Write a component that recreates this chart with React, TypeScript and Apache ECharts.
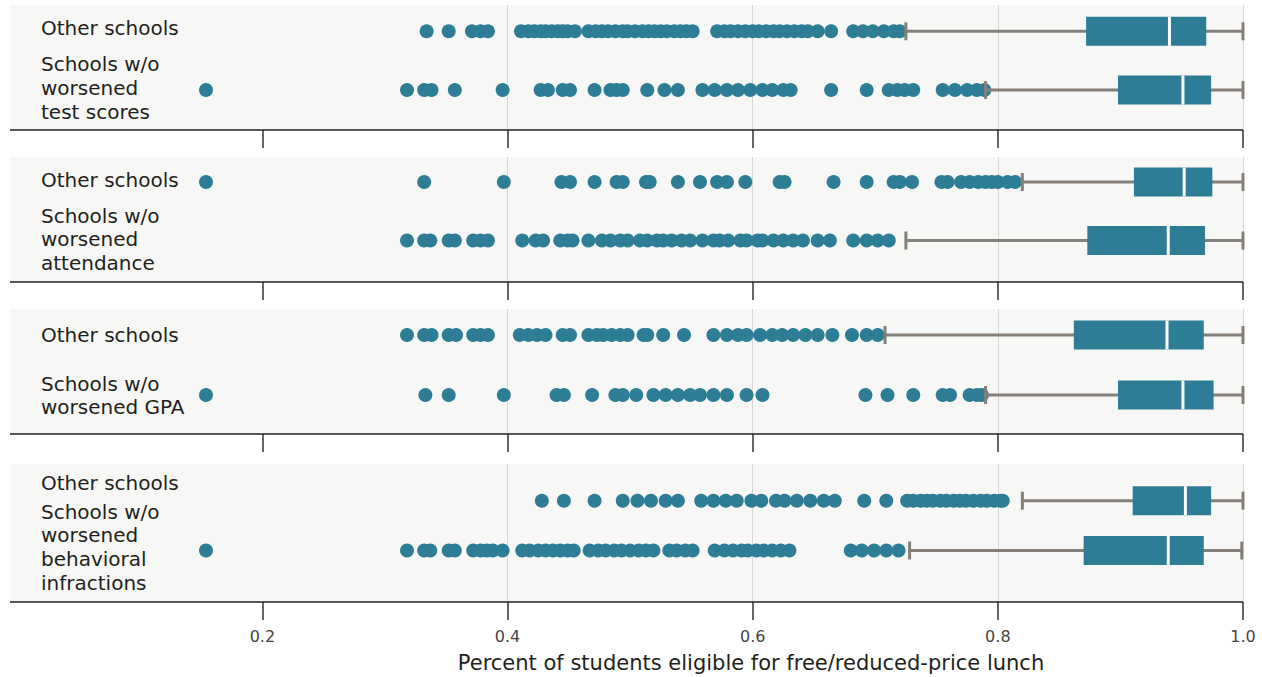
import React, { useEffect, useRef } from "react";
import * as echarts from "echarts";

// ---------- data ----------
const xTicks = [0.2, 0.4, 0.6, 0.8, 1.0];
const axisTitle = "Percent of students eligible for free/reduced-price lunch";

const rowLabels = [
  ["Other schools", "Schools w/o\nworsened\ntest scores"],
  ["Other schools", "Schools w/o\nworsened\nattendance"],
  ["Other schools", "Schools w/o\nworsened GPA"],
  ["Other schools", "Schools w/o\nworsened\nbehavioral\ninfractions"],
];

// box stats: [lower whisker, Q1, median, Q3, upper whisker]
const testOtherBox = [0.725, 0.872, 0.940, 0.970, 1.0];
const testWorseBox = [0.790, 0.898, 0.951, 0.974, 1.0];
const attOtherBox = [0.820, 0.911, 0.952, 0.975, 1.0];
const attWorseBox = [0.725, 0.873, 0.939, 0.969, 1.0];
const gpaOtherBox = [0.708, 0.862, 0.938, 0.968, 1.0];
const gpaWorseBox = [0.790, 0.898, 0.951, 0.976, 1.0];
const behOtherBox = [0.820, 0.910, 0.953, 0.974, 1.0];
const behWorseBox = [0.728, 0.870, 0.939, 0.968, 0.999];

// outliers
const testOtherPts = [0.334, 0.352, 0.371, 0.378, 0.384, 0.411, 0.417, 0.422, 0.427, 0.431, 0.436, 0.441, 0.445, 0.449, 0.455,
  0.466, 0.472, 0.477, 0.482, 0.488, 0.494, 0.498, 0.504, 0.510, 0.515, 0.520, 0.525, 0.530, 0.536, 0.541, 0.546, 0.551,
  0.571, 0.577, 0.582, 0.588, 0.594, 0.600, 0.605, 0.611, 0.617, 0.622, 0.628, 0.634, 0.640, 0.645, 0.653, 0.664,
  0.682, 0.690, 0.698, 0.707, 0.715, 0.720];
const testWorsePts = [0.154, 0.318, 0.332, 0.338, 0.357, 0.396, 0.427, 0.433, 0.445, 0.451, 0.471, 0.484, 0.489, 0.494, 0.514,
  0.528, 0.539, 0.559, 0.569, 0.579, 0.588, 0.598, 0.608, 0.616, 0.625, 0.631, 0.664, 0.693, 0.711, 0.718, 0.724, 0.731,
  0.755, 0.765, 0.775, 0.783, 0.789];
const attOtherPts = [0.154, 0.332, 0.397, 0.444, 0.451, 0.471, 0.489, 0.494, 0.513, 0.516, 0.539, 0.557, 0.571, 0.579, 0.594,
  0.622, 0.626, 0.666, 0.693, 0.715, 0.720, 0.730, 0.754, 0.759, 0.770, 0.777, 0.784, 0.790, 0.795, 0.800, 0.808, 0.814];
const attWorsePts = [0.318, 0.332, 0.337, 0.352, 0.357, 0.372, 0.378, 0.384, 0.412, 0.423, 0.429, 0.443, 0.449, 0.453, 0.466,
  0.477, 0.484, 0.492, 0.498, 0.508, 0.514, 0.522, 0.527, 0.534, 0.542, 0.549, 0.559, 0.568, 0.573, 0.580, 0.590, 0.595,
  0.604, 0.608, 0.617, 0.625, 0.633, 0.641, 0.653, 0.663, 0.682, 0.693, 0.702, 0.711];
const gpaOtherPts = [0.318, 0.332, 0.338, 0.352, 0.358, 0.372, 0.378, 0.384, 0.410, 0.417, 0.424, 0.431, 0.445, 0.451, 0.466,
  0.473, 0.478, 0.485, 0.492, 0.498, 0.511, 0.514, 0.527, 0.544, 0.568, 0.579, 0.588, 0.595, 0.606, 0.616, 0.624, 0.633,
  0.643, 0.653, 0.665, 0.681, 0.693, 0.702];
const gpaWorsePts = [0.154, 0.333, 0.352, 0.397, 0.440, 0.446, 0.469, 0.488, 0.494, 0.505, 0.519, 0.529, 0.539, 0.549, 0.557,
  0.568, 0.579, 0.595, 0.608, 0.692, 0.710, 0.731, 0.755, 0.761, 0.777, 0.783, 0.787];
const behOtherPts = [0.428, 0.446, 0.471, 0.494, 0.506, 0.517, 0.529, 0.539, 0.558, 0.568, 0.578, 0.587, 0.599, 0.607, 0.619,
  0.626, 0.636, 0.647, 0.658, 0.667, 0.691, 0.709, 0.726, 0.731, 0.737, 0.742, 0.747, 0.753, 0.758, 0.764, 0.769, 0.774,
  0.780, 0.786, 0.791, 0.797, 0.802, 0.804];
const behWorsePts = [0.154, 0.318, 0.332, 0.337, 0.352, 0.357, 0.372, 0.378, 0.383, 0.388, 0.396, 0.412, 0.418, 0.425, 0.431,
  0.437, 0.443, 0.449, 0.454, 0.467, 0.474, 0.480, 0.487, 0.493, 0.500, 0.507, 0.513, 0.519, 0.532, 0.538, 0.545, 0.551,
  0.569, 0.577, 0.584, 0.591, 0.596, 0.603, 0.609, 0.616, 0.623, 0.630, 0.680, 0.689, 0.699, 0.709, 0.719];

const panelBoxes = [
  [testOtherBox, testWorseBox],
  [attOtherBox, attWorseBox],
  [gpaOtherBox, gpaWorseBox],
  [behOtherBox, behWorseBox],
];
const panelPts = [
  [testOtherPts, testWorsePts],
  [attOtherPts, attWorsePts],
  [gpaOtherPts, gpaWorsePts],
  [behOtherPts, behWorsePts],
];

// ---------- layout / style ----------
const TEAL = "#2e7d96";
const WHISK = "#857f79";
const BG = "#f7f7f5";
const FONT = "DejaVu Sans";
const W = 1262;
const H = 677;
const GRID_LEFT = 17.2;
const GRID_RIGHT_PX = 1243;
const PANEL_LEFT = 10;
// panel [top, bottom], row pixel centres [row0, row1]
const panels = [
  { top: 5, bottom: 130, rows: [31.3, 90] },
  { top: 157, bottom: 282, rows: [182, 240.5] },
  { top: 309, bottom: 434, rows: [335, 395] },
  { top: 464, bottom: 602, rows: [500.7, 550.5] },
];
const labelY = [
  [28.2, 88],
  [180.2, 239.2],
  [335.2, 395.5],
  [482.5, 547.2],
];

function buildOption() {
  const grid: any[] = [];
  const xAxis: any[] = [];
  const yAxis: any[] = [];
  const series: any[] = [];
  const graphic: any[] = [];

  panels.forEach((p, i) => {
    const h = p.bottom - p.top;
    const sp = p.rows[1] - p.rows[0];
    const ymin = -(p.rows[0] - p.top) / sp;
    const ymax = 1 + (p.bottom - p.rows[1]) / sp;
    grid.push({ left: GRID_LEFT, width: GRID_RIGHT_PX - GRID_LEFT, top: p.top, height: h, containLabel: false });
    xAxis.push({
      gridIndex: i,
      type: "value",
      position: "bottom",
      min: 0,
      max: 1,
      interval: 0.2,
      axisLine: { show: false, onZero: false },
      axisTick: { show: true, customValues: xTicks, length: 18, inside: false, lineStyle: { color: "#333", width: 1.5 } },
      axisLabel: {
        show: i === panels.length - 1,
        customValues: xTicks,
        margin: 26,
        formatter: (v: number) => v.toFixed(1),
        fontSize: 16,
        fontFamily: FONT,
        color: "#444",
      },
      splitLine: { show: true, showMinLine: false, lineStyle: { color: "#d6d6d6", width: 1 } },
    });
    yAxis.push({ gridIndex: i, type: "value", inverse: true, min: ymin, max: ymax, show: false });

    graphic.push({
      type: "rect",
      z: -10,
      shape: { x: PANEL_LEFT, y: p.top, width: GRID_RIGHT_PX - PANEL_LEFT, height: h },
      style: { fill: BG },
      silent: true,
    });
    graphic.push({
      type: "line",
      z: 10,
      shape: { x1: PANEL_LEFT, y1: p.bottom, x2: GRID_RIGHT_PX, y2: p.bottom },
      style: { stroke: "#222", lineWidth: 1.5 },
      silent: true,
    });
    rowLabels[i].forEach((t, r) => {
      graphic.push({
        type: "text",
        x: 41,
        y: labelY[i][r],
        style: {
          text: t,
          fill: "#231f20",
          fontSize: 20,
          fontFamily: FONT,
          lineHeight: 23.7,
          textAlign: "left",
          align: "left",
          textVerticalAlign: "middle",
          verticalAlign: "middle",
        },
      });
    });

    const scatterData: number[][] = [];
    panelPts[i].forEach((arr, r) => arr.forEach((v) => scatterData.push([v, r])));
    series.push({
      type: "scatter",
      xAxisIndex: i,
      yAxisIndex: i,
      symbol: "circle",
      symbolSize: 14,
      itemStyle: { color: TEAL, opacity: 1 },
      data: scatterData,
      z: 2,
    });
    series.push({
      type: "custom",
      xAxisIndex: i,
      yAxisIndex: i,
      z: 3,
      encode: { x: [1, 2, 3, 4, 5], y: 0 },
      data: panelBoxes[i].map((b, r) => [r, ...b]),
      renderItem: (params: any, api: any) => {
        const row = api.value(0);
        const lo = api.coord([api.value(1), row]);
        const q1 = api.coord([api.value(2), row]);
        const med = api.coord([api.value(3), row]);
        const q3 = api.coord([api.value(4), row]);
        const hi = api.coord([api.value(5), row]);
        const cy = lo[1];
        const bh = 29;
        const ch = 18;
        return {
          type: "group",
          children: [
            { type: "line", shape: { x1: lo[0], y1: cy, x2: hi[0], y2: cy }, style: { stroke: WHISK, lineWidth: 3 } },
            { type: "line", shape: { x1: lo[0], y1: cy - ch / 2, x2: lo[0], y2: cy + ch / 2 }, style: { stroke: WHISK, lineWidth: 3 } },
            { type: "line", shape: { x1: hi[0], y1: cy - ch / 2, x2: hi[0], y2: cy + ch / 2 }, style: { stroke: WHISK, lineWidth: 3 } },
            { type: "rect", shape: { x: q1[0], y: cy - bh / 2, width: q3[0] - q1[0], height: bh }, style: { fill: TEAL } },
            { type: "line", shape: { x1: med[0], y1: cy - bh / 2, x2: med[0], y2: cy + bh / 2 }, style: { stroke: "#ffffff", lineWidth: 3 } },
          ],
        };
      },
    });
  });

  graphic.push({
    type: "text",
    x: 751,
    y: 663,
    style: {
      text: axisTitle,
      fill: "#231f20",
      fontSize: 21,
      fontFamily: FONT,
      textAlign: "center",
      align: "center",
      textVerticalAlign: "middle",
      verticalAlign: "middle",
    },
  });

  return {
    animation: false,
    backgroundColor: "#ffffff",
    grid,
    xAxis,
    yAxis,
    series,
    graphic,
  };
}

export default function App() {
  const ref = useRef<HTMLDivElement>(null);
  useEffect(() => {
    if (!ref.current) return;
    const chart = echarts.init(ref.current, undefined, { renderer: "svg" });
    chart.setOption(buildOption() as any);
    return () => chart.dispose();
  }, []);
  return <div ref={ref} style={{ position: "fixed", left: 0, top: 0, width: W, height: H }} />;
}
